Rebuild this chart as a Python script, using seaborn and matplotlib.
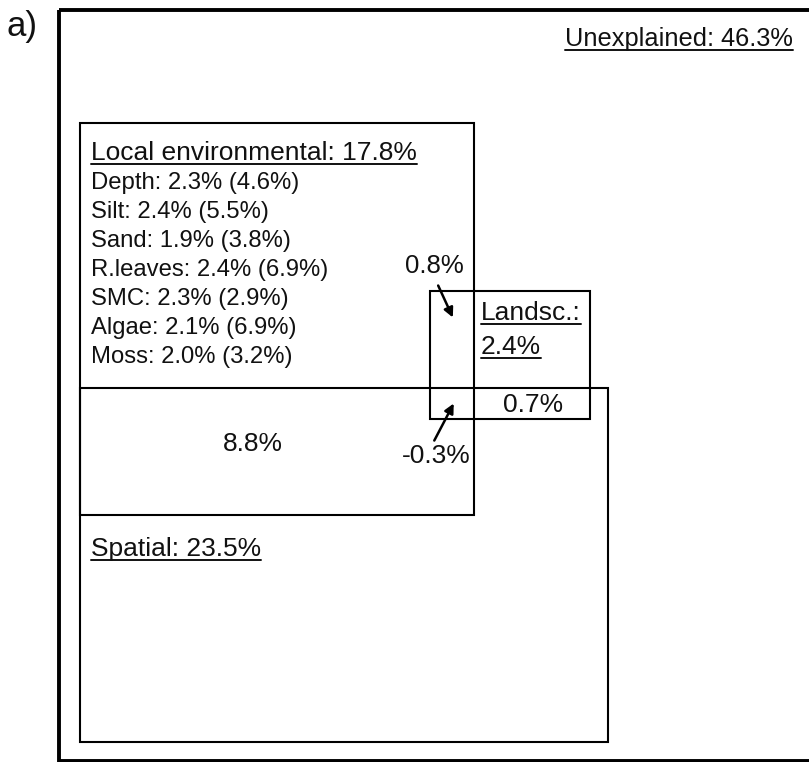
import matplotlib
matplotlib.use("Agg")
import matplotlib.pyplot as plt
import seaborn as sns
from matplotlib.patches import Rectangle

sns.set_style("white")
plt.rcParams['font.family'] = ['Liberation Sans', 'DejaVu Sans']

# ---- data ----
unexplained = 46.3
local_env_total = 17.8
env_vars = ["Depth", "Silt", "Sand", "R.leaves", "SMC", "Algae", "Moss"]
env_unique = [2.3, 2.4, 1.9, 2.4, 2.3, 2.1, 2.0]
env_marginal = [4.6, 5.5, 3.8, 6.9, 2.9, 6.9, 3.2]
landscape_total = 2.4
spatial_total = 23.5
shared_env_spatial = 8.8
shared_env_land = 0.8
shared_land_spatial = 0.7
shared_all = -0.3

# box geometry (pixel space: x0, y0, x1, y1)
box_names = ["outer", "env", "land", "spatial"]
box_x0 = [59, 80, 430, 80]
box_y0 = [10, 123, 291, 388]
box_x1 = [830, 474, 590, 608]
box_y1 = [761, 515, 419, 742]
box_lw = [2.8, 1.5, 1.5, 1.5]

W, H = 809, 762
fig = plt.figure(figsize=(W / 100, H / 100), dpi=100)
ax = fig.add_axes([0, 0, 1, 1])
ax.set_xlim(0, W)
ax.set_ylim(H, 0)
ax.axis("off")

for x0, y0, x1, y1, lw in zip(box_x0, box_y0, box_x1, box_y1, box_lw):
    ax.add_patch(Rectangle((x0, y0), x1 - x0, y1 - y0, fill=False,
                           edgecolor="black", linewidth=lw))

underlined = []

def txt(x, y, s, size=19, ha="left", ul=False, **kw):
    t = ax.text(x, y, s, fontsize=size, ha=ha, va="baseline", color="#111111", **kw)
    if ul:
        underlined.append(t)
    return t

ax.text(7, 36, "a)", fontsize=25, ha="left", va="baseline", color="#111111")
txt(565, 46, f"Unexplained: {unexplained}%", size=18.3, ul=True)
txt(91, 160, f"Local environmental: {local_env_total}%", size=19, ul=True)
for i, (n, u, m) in enumerate(zip(env_vars, env_unique, env_marginal)):
    txt(91, 189 + 29 * i, f"{n}: {u}% ({m}%)", size=17.2)
txt(405, 273, f"{shared_env_land}%", size=18.5)
txt(481, 320, "Landsc.:", size=19, ul=True)
txt(481, 354, f"{landscape_total}%", size=19, ul=True)
txt(533, 412, f"{shared_land_spatial}%", size=19, ha="center")
txt(253, 451, f"{shared_env_spatial}%", size=19, ha="center")
txt(402, 463, f"{shared_all}%", size=19)
txt(91, 556, f"Spatial: {spatial_total}%", size=19, ul=True)

ax.annotate("", xy=(454, 320), xytext=(437, 283),
            arrowprops=dict(arrowstyle="-|>", color="black", lw=1.8, mutation_scale=14))
ax.annotate("", xy=(455, 401), xytext=(433, 443),
            arrowprops=dict(arrowstyle="-|>", color="black", lw=1.8, mutation_scale=14))

fig.canvas.draw()
r = fig.canvas.get_renderer()
inv = ax.transData.inverted()
for t in underlined:
    bb = t.get_window_extent(renderer=r)
    (xa, _), (xb, _) = inv.transform([(bb.x0, bb.y0), (bb.x1, bb.y0)])
    _, yb = t.get_position()
    ax.plot([xa, xb], [yb + 4, yb + 4], color="#111111", lw=1.4)

fig.savefig("out.png", dpi=100)
